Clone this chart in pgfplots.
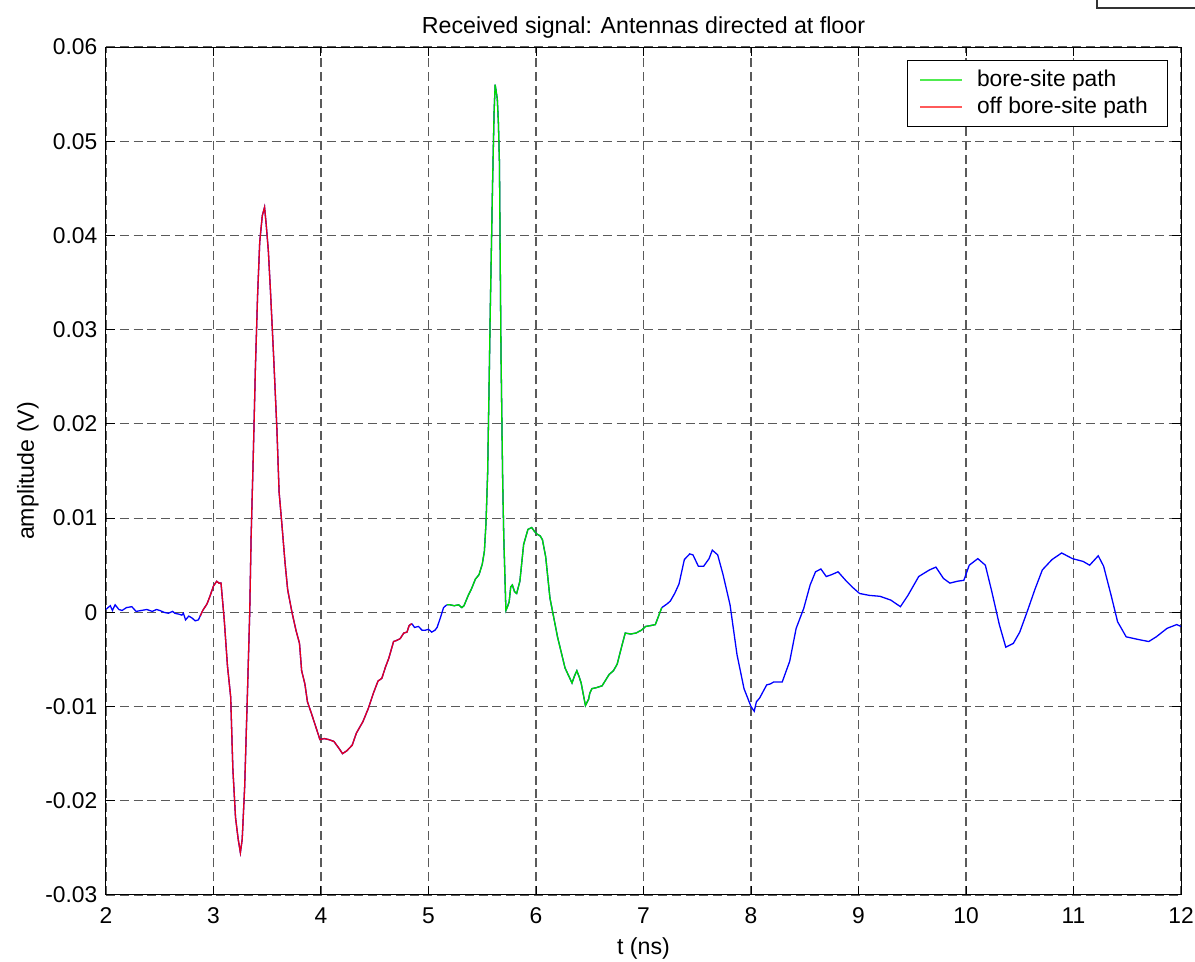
\documentclass[border=0pt]{standalone}
\usepackage{fontspec}
\setmainfont{Liberation Sans}
\usepackage{pgfplots}
\pgfplotsset{compat=1.18}
\usepackage{pgfplotstable}
\definecolor{mblue}{RGB}{0,0,255}
\definecolor{mgreen}{RGB}{0,220,0}
\definecolor{mred}{RGB}{230,0,30}
\definecolor{legG}{RGB}{80,235,80}
\definecolor{legR}{RGB}{255,90,90}
\definecolor{mgrid}{RGB}{90,90,90}

\pgfplotstableread{
t v
2.000 0.0003
2.008 0.0004
2.040 0.0007
2.060 0.0002
2.085 0.0008
2.120 0.0003
2.150 0.0002
2.190 0.0005
2.240 0.0006
2.280 0.0001
2.330 0.0002
2.380 0.0003
2.430 0.0001
2.470 0.0003
2.500 0.0002
2.540 0.0000
2.580 -0.0001
2.620 0.0001
2.640 -0.0001
2.680 -0.0002
2.705 -0.0003
2.720 -0.0001
2.740 -0.0008
2.770 -0.0004
2.800 -0.0006
2.830 -0.0009
2.860 -0.0008
2.876 -0.0004
}\tA

\pgfplotstableread{
t v
2.876 -0.0004
2.900 0.0002
2.940 0.0009
2.970 0.0018
3.000 0.0028
3.030 0.0033
3.050 0.0031
3.070 0.0031
3.100 -0.0008
3.130 -0.0057
3.160 -0.0090
3.180 -0.0166
3.205 -0.0218
3.230 -0.0241
3.250 -0.0255
3.267 -0.0241
3.290 -0.0185
3.316 -0.0085
3.337 0.0000
3.350 0.0080
3.370 0.0166
3.390 0.0260
3.410 0.0336
3.430 0.0393
3.454 0.0421
3.475 0.0430
3.490 0.0412
3.510 0.0384
3.530 0.0341
3.560 0.0270
3.590 0.0194
3.610 0.0128
3.635 0.0095
3.666 0.0052
3.690 0.0024
3.730 0.0000
3.767 -0.0019
3.800 -0.0033
3.820 -0.0062
3.850 -0.0076
3.874 -0.0095
3.910 -0.0107
3.950 -0.0121
3.990 -0.0135
4.030 -0.0134
4.070 -0.0135
4.120 -0.0137
4.165 -0.0144
4.200 -0.0150
4.240 -0.0147
4.290 -0.0141
4.330 -0.0128
4.390 -0.0116
4.440 -0.0102
4.490 -0.0085
4.530 -0.0073
4.566 -0.0070
4.600 -0.0058
4.630 -0.0049
4.675 -0.0031
4.700 -0.0030
4.736 -0.0028
4.770 -0.0022
4.800 -0.0021
4.820 -0.0014
4.845 -0.0012
}\tR

\pgfplotstableread{
t v
4.845 -0.0012
4.870 -0.0016
4.907 -0.0015
4.940 -0.0019
4.970 -0.0019
5.000 -0.0018
5.030 -0.0021
5.060 -0.0019
5.080 -0.0016
5.110 -0.0006
5.140 0.0005
5.170 0.0008
}\tB

\pgfplotstableread{
t v
5.170 0.0008
5.200 0.0008
5.240 0.0007
5.280 0.0008
5.310 0.0005
5.330 0.0007
5.370 0.0018
5.400 0.0025
5.435 0.0035
5.470 0.0040
5.500 0.0051
5.520 0.0065
5.535 0.0095
5.550 0.0147
5.565 0.0250
5.575 0.0323
5.596 0.0455
5.610 0.0530
5.620 0.0560
5.640 0.0545
5.650 0.0520
5.660 0.0477
5.674 0.0279
5.690 0.0140
5.700 0.0081
5.720 0.0002
5.735 0.0006
5.750 0.0011
5.765 0.0027
5.780 0.0029
5.800 0.0022
5.820 0.0020
5.850 0.0033
5.885 0.0072
5.925 0.0088
5.960 0.0090
5.985 0.0086
6.010 0.0083
6.040 0.0081
6.060 0.0077
6.090 0.0059
6.130 0.0015
6.200 -0.0026
6.270 -0.0059
6.335 -0.0075
6.360 -0.0067
6.380 -0.0062
6.400 -0.0068
6.420 -0.0075
6.460 -0.0099
6.490 -0.0092
6.500 -0.0086
6.520 -0.0081
6.560 -0.0080
6.615 -0.0078
6.680 -0.0066
6.720 -0.0062
6.755 -0.0055
6.800 -0.0035
6.830 -0.0022
6.880 -0.0023
6.930 -0.0022
6.980 -0.0019
7.020 -0.0015
7.070 -0.0014
7.110 -0.0013
7.140 -0.0004
7.170 0.0005
}\tG

\pgfplotstableread{
t v
7.170 0.0005
7.220 0.0009
7.250 0.0012
7.290 0.0020
7.330 0.0030
7.380 0.0056
7.430 0.0062
7.460 0.0061
7.510 0.0049
7.560 0.0049
7.610 0.0057
7.640 0.0066
7.690 0.0061
7.740 0.0040
7.805 0.0008
7.870 -0.0045
7.935 -0.0081
8.000 -0.0100
8.030 -0.0105
8.050 -0.0095
8.080 -0.0091
8.146 -0.0077
8.180 -0.0076
8.210 -0.0074
8.290 -0.0074
8.360 -0.0052
8.420 -0.0017
8.490 0.0004
8.550 0.0029
8.600 0.0043
8.650 0.0046
8.700 0.0038
8.750 0.0040
8.810 0.0043
8.880 0.0034
8.940 0.0027
9.010 0.0020
9.100 0.0018
9.200 0.0017
9.250 0.0015
9.300 0.0013
9.390 0.0006
9.460 0.0018
9.560 0.0038
9.660 0.0045
9.720 0.0048
9.790 0.0036
9.850 0.0031
9.920 0.0033
9.980 0.0034
10.030 0.0050
10.110 0.0057
10.180 0.0050
10.240 0.0022
10.310 -0.0013
10.370 -0.0037
10.440 -0.0033
10.500 -0.0021
10.570 0.0001
10.640 0.0024
10.710 0.0045
10.800 0.0056
10.890 0.0063
10.990 0.0057
11.090 0.0054
11.150 0.0050
11.230 0.0060
11.280 0.0049
11.350 0.0018
11.410 -0.0010
11.490 -0.0026
11.610 -0.0029
11.700 -0.0031
11.770 -0.0026
11.870 -0.0017
11.960 -0.0013
12.000 -0.0015
}\tC

\begin{document}
\begin{tikzpicture}
\useasboundingbox (-53pt,-33.5pt) rectangle (544.5pt,447.5pt);
\begin{axis}[
  scale only axis, width=537.5pt, height=424pt,
  xmin=2, xmax=12, ymin=-0.03, ymax=0.06,
  xtick={2,3,4,5,6,7,8,9,10,11,12},
  xticklabels={2,3,4,5,6,7,8,9,10,11,12},
  ytick={-0.03,-0.02,-0.01,0,0.01,0.02,0.03,0.04,0.05,0.06},
  yticklabels={-0.03,-0.02,-0.01,0,0.01,0.02,0.03,0.04,0.05,0.06},
  scaled ticks=false,
  xtick pos=both, ytick pos=both,
  xticklabel pos=lower, yticklabel pos=left,
  tick align=inside, major tick length=4.5pt,
  tick style={black, line width=0.5pt},
  axis line style={black, line width=0.5pt},
  grid=major,
  major grid style={mgrid, dash pattern=on 4.5pt off 2.4pt, line width=0.55pt},
  every tick label/.append style={font=\fontsize{11.4}{13.7}\selectfont},
  xticklabel style={yshift=-3pt},
  yticklabel style={xshift=-0.8pt},
  title={Received signal: Antennas directed at floor},
  title style={font=\fontsize{11.6}{13.9}\selectfont, yshift=-5pt},
  xlabel={t (ns)},
  xlabel style={font=\fontsize{11.6}{13.9}\selectfont, at={(axis description cs:0.5,0)}, anchor=base, yshift=-30pt},
  ylabel={amplitude (V)},
  ylabel style={font=\fontsize{11.6}{13.9}\selectfont, at={(axis description cs:0,0.5)}, anchor=base, yshift=36pt},
  legend style={at={(0.988,0.9847)}, anchor=north east, draw=black, fill=white,
    font=\fontsize{11.4}{13.7}\selectfont, inner xsep=6.5pt, inner ysep=2.7pt, row sep=0pt,
    nodes={inner xsep=0pt}},
  legend cell align=left,
  legend image code/.code={},
]
\addlegendimage{legG}
\addlegendentry{\textcolor{legG}{\rule[2.8pt]{21pt}{1.1pt}}\kern7.5pt bore-site path\kern3.5pt}
\addlegendimage{legR}
\addlegendentry{\textcolor{legR}{\rule[2.8pt]{21pt}{1.1pt}}\kern7.5pt off bore-site path\kern3.5pt}
\addplot[mblue, line width=0.65pt, forget plot] table {\tA};
\addplot[mblue, line width=0.65pt, forget plot] table {\tR};
\addplot[mblue, line width=0.65pt, forget plot] table {\tB};
\addplot[mblue, line width=0.65pt, forget plot] table {\tG};
\addplot[mblue, line width=0.65pt, forget plot] table {\tC};
\addplot[mgreen, line width=0.65pt, forget plot] table {\tG};
\addplot[mred, line width=0.65pt, forget plot] table {\tR};
\end{axis}
\draw[line width=0.75pt, black!80] (495.5pt,448pt) -- (495.5pt,443.5pt) -- (546pt,443.5pt);
\end{tikzpicture}
\end{document}
